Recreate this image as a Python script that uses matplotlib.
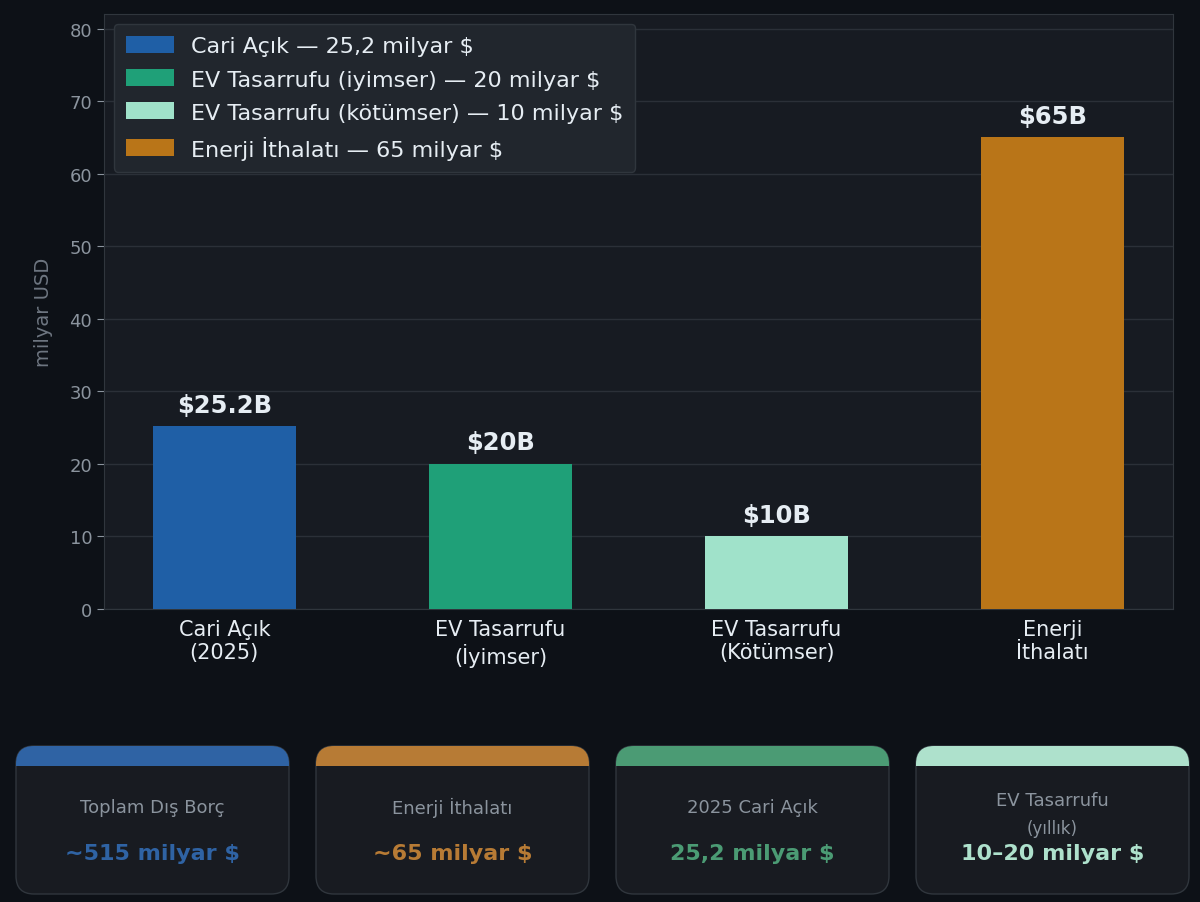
import matplotlib
matplotlib.use("Agg")
from matplotlib import pyplot as plt
from matplotlib.patches import FancyBboxPatch, Rectangle, Patch

plt.rcParams["font.family"] = ["DejaVu Sans"]

categories = ["Cari Açık\n(2025)", "EV Tasarrufu\n(İyimser)", "EV Tasarrufu\n(Kötümser)", "Enerji\nİthalatı"]
values = [25.2, 20, 10, 65]
bar_labels = ["$25.2B", "$20B", "$10B", "$65B"]
legend_labels = [
    "Cari Açık — 25,2 milyar $",
    "EV Tasarrufu (iyimser) — 20 milyar $",
    "EV Tasarrufu (kötümser) — 10 milyar $",
    "Enerji İthalatı — 65 milyar $",
]
bar_colors = ["#1f5fa6", "#1fa078", "#a0e2ca", "#b97518"]

card_titles = ["Toplam Dış Borç", "Enerji İthalatı", "2025 Cari Açık", "EV Tasarrufu\n(yıllık)"]
card_values = ["~515 milyar $", "~65 milyar $", "25,2 milyar $", "10–20 milyar $"]
card_colors = ["#2f63a4", "#b77b35", "#4b9b74", "#aee1cc"]

fig_bg = "#0d1117"
ax_bg = "#171b22"
edge = "#30363d"
muted = "#8b949e"
light = "#e6edf3"

W, H = 1200, 903
fig = plt.figure(figsize=(W / 100, H / 100), dpi=100, facecolor=fig_bg)

# Main bar chart
ax = fig.add_axes([104 / W, 1 - 610 / H, (1173 - 104) / W, (610 - 15) / H])
ax.set_facecolor(ax_bg)
x = range(len(values))
bars = ax.bar(x, values, width=0.52, color=bar_colors, zorder=3)
ax.set_ylim(0, 82)
ax.set_yticks(range(0, 81, 10))
ax.set_xticks(list(x))
ax.set_xticklabels(categories, color=light, fontsize=15)
ax.tick_params(axis="x", length=0, pad=7)
ax.tick_params(axis="y", colors=muted, labelsize=13, length=5, color=muted)
ax.grid(axis="y", color="#2b3038", linewidth=1, zorder=0)
for s in ax.spines.values():
    s.set_color(edge)
ax.set_ylabel("milyar USD", color="#6e7681", fontsize=14, labelpad=12)

for b, lab in zip(bars, bar_labels):
    ax.text(b.get_x() + b.get_width() / 2, b.get_height() + 1.3, lab,
            ha="center", va="bottom", color=light, fontsize=17.5, fontweight="bold", zorder=4)

handles = [Patch(facecolor=c) for c in bar_colors]
leg = ax.legend(handles, legend_labels, loc="upper left", fontsize=16,
                facecolor="#21262d", edgecolor=edge, labelcolor=light,
                framealpha=1, handlelength=2.15, handleheight=0.8,
                handletextpad=0.75, borderaxespad=0.45, borderpad=0.55,
                labelspacing=0.58)

# Summary cards, in pixel coordinates
cv = fig.add_axes([0, 0, 1, 1])
cv.set_xlim(0, W)
cv.set_ylim(H, 0)
cv.axis("off")
cv.patch.set_alpha(0)

card_w, card_h, gap = 273, 148, 27
top, band = 747, 20
for i, (title, val, col) in enumerate(zip(card_titles, card_values, card_colors)):
    left = 16 + i * (card_w + gap)
    body = FancyBboxPatch((left, top), card_w, card_h, boxstyle="round,pad=0,rounding_size=18",
                          facecolor="#181b21", edgecolor=edge, linewidth=1)
    cv.add_patch(body)
    head = FancyBboxPatch((left, top), card_w, card_h, boxstyle="round,pad=0,rounding_size=18",
                          facecolor=col, edgecolor="none")
    cv.add_patch(head)
    clip = Rectangle((left - 2, top - 2), card_w + 4, band + 2, transform=cv.transData)
    head.set_clip_path(clip)
    cx = left + card_w / 2
    if "\n" in title:
        first, second = title.split("\n")
        cv.text(cx, 801, first, ha="center", va="center", color=muted, fontsize=13)
        cv.text(cx, 829, second, ha="center", va="center", color=muted, fontsize=12)
    else:
        cv.text(cx, 808, title, ha="center", va="center", color=muted, fontsize=13)
    cv.text(cx, 854, val, ha="center", va="center", color=col, fontsize=16, fontweight="bold")

fig.savefig("out.png", dpi=100, facecolor=fig_bg)
